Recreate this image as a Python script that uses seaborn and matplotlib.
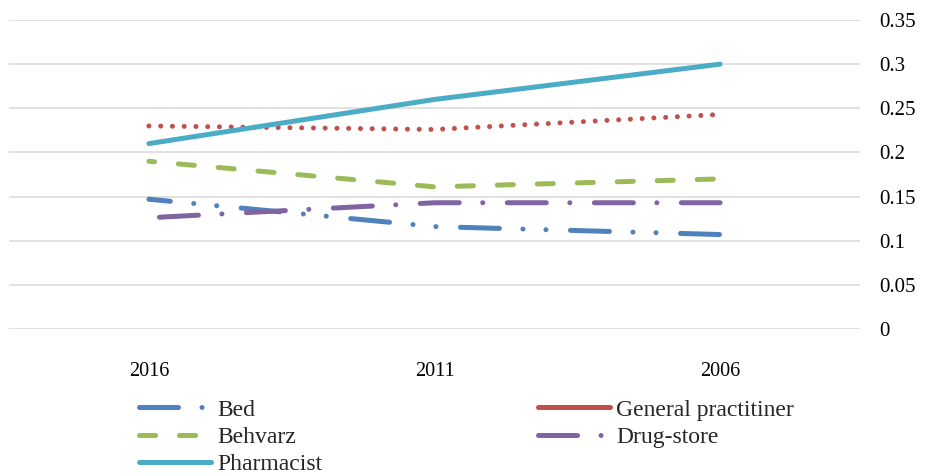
import matplotlib
matplotlib.use("Agg")
import matplotlib.pyplot as plt
from matplotlib.lines import Line2D
import pandas as pd
import seaborn as sns

# Survey years (category axis) and the indicator value per series
years = ["2016", "2011", "2006"]
bed = [0.147, 0.116, 0.107]
general_practitiner = [0.23, 0.226, 0.243]
behvarz = [0.19, 0.161, 0.17]
drug_store = [0.126, 0.143, 0.143]
pharmacist = [0.21, 0.26, 0.30]

y_ticks = [0, 0.05, 0.1, 0.15, 0.2, 0.25, 0.3, 0.35]
y_tick_labels = ["0", "0.05", "0.1", "0.15", "0.2", "0.25", "0.3", "0.35"]

sns.set_theme(style="white")
plt.rcParams["font.family"] = ["Liberation Serif", "DejaVu Serif"]

LW = 3.6  # points

# dash patterns, in units of the line width
LONG_DASH_DOT_DOT = (7.8, 4.7, 0.01, 4.6, 0.01, 4.9)
DASH = (3.22, 4.78)
ROUND_DOT = (0.01, 2.34)
LONG_DASH_DOT = (7.8, 4.7, 0.01, 4.9)

# name, values, colour, chart linestyle, legend linestyle
series = [
    ("Bed", bed, "#4f81bd", (3.5, LONG_DASH_DOT_DOT), (0, LONG_DASH_DOT_DOT)),
    ("Behvarz", behvarz, "#9bbb59", (2.1, DASH), (0, DASH)),
    ("Pharmacist", pharmacist, "#4bacc6", "-", "-"),
    ("General practitiner", general_practitiner, "#c0504d", (0, ROUND_DOT), "-"),
    ("Drug-store", drug_store, "#8064a2", (15.3, LONG_DASH_DOT), (0, LONG_DASH_DOT)),
]

fig = plt.figure(figsize=(9.26, 4.76), dpi=100)
W, H = 926, 476
ax = fig.add_axes([9 / W, (H - 329) / H, (860 - 9) / W, (329 - 20) / H])

draw_order = ["Bed", "General practitiner", "Behvarz", "Drug-store", "Pharmacist"]
lookup = {s[0]: s for s in series}
for name in draw_order:
    _, vals, color, ls, _ = lookup[name]
    df = pd.DataFrame({"year": years, "value": vals})
    sns.lineplot(data=df, x="year", y="value", ax=ax, color=color,
                 linewidth=LW, linestyle=ls, dash_capstyle="round",
                 solid_capstyle="round", legend=False)

ax.set_xlim(-0.49, 2.49)
ax.set_ylim(0, 0.35)
ax.set_yticks(y_ticks)
ax.set_yticklabels(y_tick_labels)
ax.yaxis.tick_right()
ax.grid(axis="y", color="#d9d9d9", linewidth=1.1)
ax.grid(axis="x", visible=False)
ax.set_axisbelow(True)
for sp in ax.spines.values():
    sp.set_visible(False)
ax.set_xlabel("")
ax.set_ylabel("")
ax.tick_params(axis="x", length=0, pad=24, labelsize=14.5, labelcolor="black")
ax.tick_params(axis="y", length=0, pad=14, labelsize=15, labelcolor="black")

handles = []
labels = []
for name, vals, color, _, leg_ls in series:
    handles.append(Line2D([0], [0], color=color, linewidth=LW, linestyle=leg_ls,
                          dash_capstyle="round", solid_capstyle="round"))
    labels.append(name)

fig.legend(handles, labels, ncol=2, loc="upper left",
           bbox_to_anchor=(139 / W, (H - 399) / H),
           frameon=False, fontsize=17, handlelength=3.05,
           handletextpad=0.25, columnspacing=9.15, labelspacing=0.25,
           borderpad=0, borderaxespad=0)

fig.savefig("out.png", dpi=100, facecolor="white")
